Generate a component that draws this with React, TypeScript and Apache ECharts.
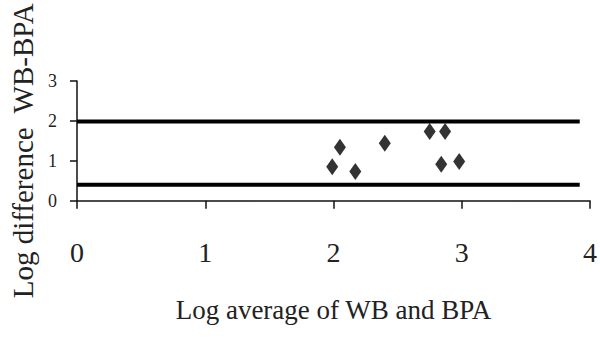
import React, { useEffect, useRef } from "react";
import * as echarts from "echarts";

const xValues = [1.99, 2.05, 2.17, 2.40, 2.75, 2.87, 2.84, 2.98];
const yValues = [0.85, 1.34, 0.73, 1.44, 1.73, 1.73, 0.91, 0.98];
const upperLimit = 1.98;
const lowerLimit = 0.4;
const limitStart = 0;
const limitEnd = 3.92;
const xTicks = [0, 1, 2, 3, 4];
const yTicks = [0, 1, 2, 3];

const FONT = "Liberation Serif";

export default function App() {
  const ref = useRef<HTMLDivElement>(null);
  useEffect(() => {
    if (!ref.current) return;
    const chart = echarts.init(ref.current, null, { renderer: "svg" });
    const points = xValues.map((x, i) => [x, yValues[i]]);
    chart.setOption({
      animation: false,
      backgroundColor: "#ffffff",
      grid: { left: 76, top: 69, right: 3, bottom: 137.3, containLabel: false },
      xAxis: {
        type: "value",
        min: xTicks[0],
        max: xTicks[xTicks.length - 1],
        interval: 1,
        splitLine: { show: false },
        axisLine: { show: true, onZero: false, lineStyle: { color: "#111", width: 1.5 } },
        axisTick: { show: true, length: 8, lineStyle: { color: "#111", width: 1.5 } },
        axisLabel: { fontFamily: FONT, fontSize: 28, color: "#222", margin: 38 },
        name: "Log average of WB and BPA",
        nameLocation: "middle",
        nameGap: 96,
        nameTextStyle: { fontFamily: FONT, fontSize: 27, color: "#222" },
      },
      yAxis: {
        type: "value",
        min: yTicks[0],
        max: yTicks[yTicks.length - 1],
        interval: 1,
        splitLine: { show: false },
        axisLine: { show: true, onZero: false, lineStyle: { color: "#111", width: 1.5 } },
        axisTick: { show: true, length: 7, lineStyle: { color: "#111", width: 1.5 } },
        axisLabel: { fontFamily: FONT, fontSize: 18, color: "#222", margin: 20 },
        name: "Log difference  WB-BPA",
        nameLocation: "middle",
        nameRotate: 90,
        nameGap: 40,
        nameTextStyle: { fontFamily: FONT, fontSize: 29, color: "#222", padding: [0, 20, 0, 0] },
      },
      series: [
        {
          type: "line",
          data: [[limitStart, upperLimit], [limitEnd, upperLimit]],
          showSymbol: false,
          symbol: "none",
          lineStyle: { color: "#000", width: 4 },
          silent: true,
        },
        {
          type: "line",
          data: [[limitStart, lowerLimit], [limitEnd, lowerLimit]],
          showSymbol: false,
          symbol: "none",
          lineStyle: { color: "#000", width: 4 },
          silent: true,
        },
        {
          type: "scatter",
          data: points,
          symbol: "diamond",
          symbolSize: [12, 17],
          itemStyle: { color: "#000" },
        },
      ],
    });
    return () => chart.dispose();
  }, []);
  return (
    <div
      ref={ref}
      style={{ position: "fixed", left: 0, top: 0, width: 600, height: 338, background: "#fff" }}
    />
  );
}
